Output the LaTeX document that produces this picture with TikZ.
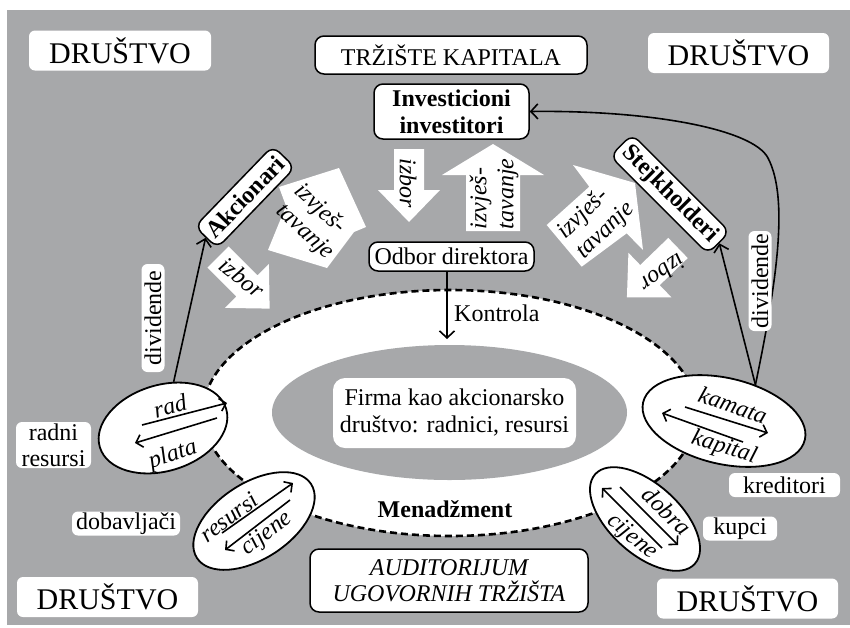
\documentclass[tikz,border=0pt]{standalone}
\usepackage{fontspec}
\setmainfont{Liberation Serif}
\usetikzlibrary{arrows.meta,shapes.geometric}
\definecolor{bg}{RGB}{167,168,170}
\newcommand{\wharrow}[6]{% tail, angle, length, body half, head half, head length
  \fill[white,shift={#1},rotate=#2] (0,#4) -- ({#3-#6},#4) -- ({#3-#6},#5) -- (#3,0) -- ({#3-#6},-#5) -- ({#3-#6},-#4) -- (0,-#4) -- cycle;}
\begin{document}
\begin{tikzpicture}[x=1pt,y=-1pt,
  every node/.style={font=\fontsize{24}{27}\selectfont, inner sep=0pt},
  wbox/.style={fill=white, rounded corners=6pt, minimum height=24pt},
  bbox/.style={fill=white, draw=black, line width=1.5pt, rounded corners=9pt},
  lab/.style={font=\fontsize{24}{27}\selectfont\itshape},
  bigtext/.style={font=\fontsize{30}{34}\selectfont},
  con/.style={line width=1.6pt, -{Straight Barb[length=7pt,width=15pt]}},
  sarr/.style={line width=1.6pt, -{Straight Barb[length=6pt,width=13pt]}},
  smallell/.style={ellipse, draw=black, fill=white, line width=1.8pt}
]
% background
\useasboundingbox (0,0) rectangle (850,627);
\fill[white] (0,0) rectangle (850,627);
\fill[bg] (7,10) rectangle (850,625);

% society labels
\node[wbox, bigtext, minimum width=182pt, minimum height=40pt] (druTL) at (120,50.5) {DRUŠTVO};
\node[wbox, bigtext, minimum width=181pt, minimum height=40pt] (druTR) at (738.5,53) {DRUŠTVO};
\node[wbox, bigtext, minimum width=181pt, minimum height=40pt] (druBL) at (107.5,597) {DRUŠTVO};
\node[wbox, bigtext, minimum width=181pt, minimum height=40pt] (druBR) at (747.5,598.5) {DRUŠTVO};

% market boxes
\node[bbox, minimum width=272pt, minimum height=38pt] (trz) at (451,55) {TRŽIŠTE KAPITALA};
\node[bbox, font=\fontsize{24}{27}\selectfont\bfseries, align=center, minimum width=155pt, minimum height=55pt] (inv) at (451.5,111.5) {Investicioni\\investitori};
\node[bbox, align=center, font=\fontsize{24}{26}\selectfont\itshape, minimum width=278pt, minimum height=63pt] (aud) at (449,580.5) {AUDITORIJUM\\UGOVORNIH TRŽIŠTA};

% firm
\draw[fill=white, dash pattern=on 7pt off 4pt, line width=2.6pt] (450,413) ellipse [x radius=247, y radius=123];
\fill[bg] (449.5,412.5) ellipse [x radius=177.5, y radius=67.5];
\node[wbox, align=center, rounded corners=12pt, minimum width=243pt, minimum height=70pt] (firma) at (454.5,413) {Firma kao akcionarsko\\društvo: radnici, resursi};
\node[font=\fontsize{24}{27}\selectfont\bfseries] (men) at (445,509) {Menadžment};

% board
\node[bbox, minimum width=165pt, minimum height=29pt] (odb) at (451.5,256.5) {Odbor direktora};
\coordinate (ktip) at (447,339);
\draw[con] (ktip |- odb.south) -- (ktip);
\node[anchor=west] (kon) at (454,313) {Kontrola};

% white block arrows
\wharrow{(409,149)}{-90}{73}{15}{31}{32}
\wharrow{(493,231)}{90}{87}{27}{51}{31}
\wharrow{(218,257)}{-45}{73}{15}{31}{32}
\wharrow{(678,248)}{-136}{71}{14}{31}{32}
\fill[white] (339,168) -- (279,187) -- (286,206) -- (268,250) -- (327,268) -- (354,232) -- (366,227) -- cycle;
\fill[white] (635,183) -- (643,250) -- (626.7,233.3) -- (581.7,266.7) -- (546.7,225) -- (589.3,186.7) -- (573,165) -- cycle;
\node[lab, rotate=-90] (izb1) at (408,183.5) {izbor};
\node[lab, rotate=90, align=left] (izv1) at (494,194) {izvješ-\\tavanje};
\node[lab, rotate=-38] (izb2) at (242,277.5) {izbor};
\node[lab, rotate=-43, align=left] (izv2) at (314,222) {izvješ-\\tavanje};
\node[lab, rotate=44, align=left] (izv3) at (596,221) {izvješ-\\tavanje};
\node[lab, rotate=-145] (izb3) at (663,273) {izbor};

% stakeholders
\node[bbox, font=\fontsize{24}{27}\selectfont\bfseries, rotate=46, minimum width=112pt, minimum height=31pt] (akc) at (245,197) {Akcionari};
\node[bbox, font=\fontsize{24}{27}\selectfont\bfseries, rotate=-45, minimum width=138pt, minimum height=31pt] (stk) at (670,194) {Stejkholderi};

% contract ellipses
\node[smallell, minimum width=132pt, minimum height=86pt, rotate=17] (radE) at (163,428) {};
\node[smallell, minimum width=136pt, minimum height=76pt, rotate=33] (resE) at (254,521) {};
\node[smallell, minimum width=166pt, minimum height=86pt, rotate=-13] (kamE) at (724,421) {};
\node[smallell, minimum width=134pt, minimum height=70pt, rotate=-42] (dobE) at (645,519) {};

\draw[sarr] (142,425) -- (227,403);
\draw[sarr] (217,418) -- (135,443);
\node[lab, rotate=15] (rad) at (170,406) {rad};
\node[lab, rotate=18] (plata) at (173,455) {plata};

\draw[sarr] (222,533) -- (293,483);
\draw[sarr] (290,500) -- (225,550);
\node[lab, rotate=37] (resl) at (229,517) {resursi};
\node[lab, rotate=37] (cij1) at (267,534) {cijene};

\draw[sarr] (685,407) -- (768,433);
\draw[sarr] (743,442) -- (662,413);
\node[lab, rotate=-19] (kam) at (733,405) {kamata};
\node[lab, rotate=-17] (kap) at (724,448) {kapital};

\draw[sarr] (662,548) -- (602,488);
\draw[sarr] (620,487) -- (678,545);
\node[lab, rotate=-44] (dob) at (667,511) {dobra};
\node[lab, rotate=-41] (cij2) at (632,537) {cijene};

% side labels
\node[wbox, align=center, font=\fontsize{24}{26}\selectfont, minimum width=75pt, minimum height=46pt] (radni) at (53.5,445) {radni\\resursi};
\node[wbox, minimum width=108pt] (dobav) at (126,523.5) {dobavljači};
\node[wbox, minimum width=111pt] (kred) at (784.5,485) {kreditori};
\node[wbox, minimum width=74pt] (kup) at (740,528.5) {kupci};

% dividend connectors
\draw[con] (radE.60) -- (akc.west);
\draw[con] (kamE.62) -- (stk.east);
\draw[con] (kamE.62) .. controls (775,290) and (790,200) .. (768,158) .. controls (753,129) and (650,110) .. (inv.east);
\node[wbox, rotate=90, minimum width=108pt, minimum height=23pt] (divL) at (153,318) {dividende};
\node[wbox, rotate=90, minimum width=100pt, minimum height=23pt] (divR) at (760,281) {dividende};
\end{tikzpicture}
\end{document}
